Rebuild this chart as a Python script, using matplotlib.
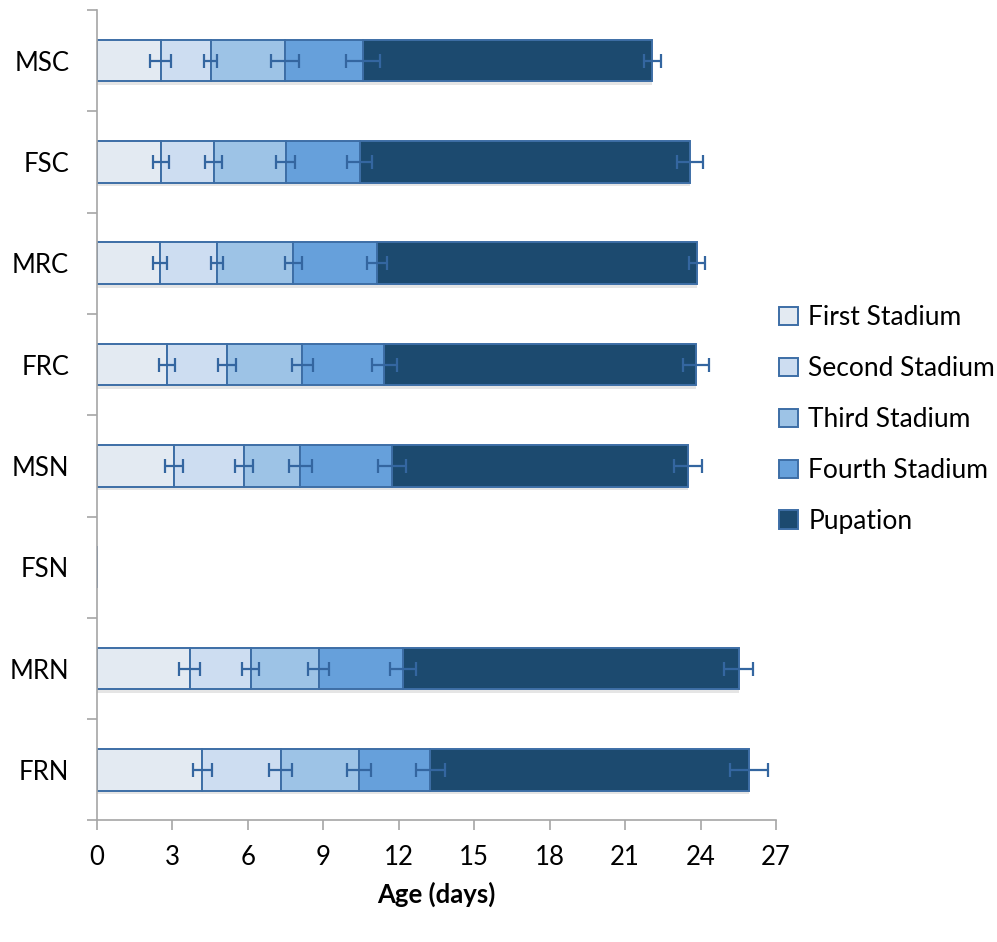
import numpy as np
import matplotlib
matplotlib.use("Agg")
import matplotlib.pyplot as plt
import matplotlib.patheffects as pe
from matplotlib.patches import Patch

plt.rcParams['font.family'] = ['Lato', 'DejaVu Sans']

# groups, top to bottom
groups = ["MSC", "FSC", "MRC", "FRC", "MSN", "FSN", "MRN", "FRN"]
stages = ["First Stadium", "Second Stadium", "Third Stadium", "Fourth Stadium", "Pupation"]

# mean duration of each stage (days); FSN has no data
first_st  = [2.53, 2.56, 2.50, 2.78, 3.07, np.nan, 3.68, 4.19]
second_st = [2.00, 2.08, 2.26, 2.39, 2.78, np.nan, 2.43, 3.12]
third_st  = [2.94, 2.86, 3.05, 3.00, 2.23, np.nan, 2.70, 3.12]
fourth_st = [3.11, 2.94, 3.33, 3.25, 3.64, np.nan, 3.35, 2.82]
pupation  = [11.51, 13.13, 12.73, 12.41, 11.79, np.nan, 13.36, 12.67]

# standard errors
first_se  = [0.42, 0.32, 0.27, 0.33, 0.35, np.nan, 0.41, 0.39]
second_se = [0.26, 0.34, 0.24, 0.35, 0.37, np.nan, 0.35, 0.46]
third_se  = [0.55, 0.38, 0.33, 0.41, 0.46, np.nan, 0.42, 0.47]
fourth_se = [0.69, 0.50, 0.41, 0.50, 0.55, np.nan, 0.51, 0.58]
pupa_se   = [0.34, 0.52, 0.32, 0.52, 0.56, np.nan, 0.58, 0.75]

durations = np.array([first_st, second_st, third_st, fourth_st, pupation])
errors = np.array([first_se, second_se, third_se, fourth_se, pupa_se])

colors = ["#e3eaf2", "#cdddf1", "#9dc3e6", "#66a0db", "#1c4a6f"]
edge = "#3d6ea6"
err_col = "#3466a0"

fig = plt.figure(figsize=(9.97, 9.42), dpi=100)
ax = fig.add_axes([0.0973, 0.1290, 0.6810, 0.8604])

y = np.arange(len(groups))
left = np.zeros(len(groups))
shadow = [pe.SimplePatchShadow(offset=(0, -2.5), shadow_rgbFace="#999999", alpha=0.25), pe.Normal()]
for i, stage in enumerate(stages):
    w = np.nan_to_num(durations[i])
    ax.barh(y, w, left=left, height=0.41, color=colors[i], edgecolor=edge,
            linewidth=1.4, label=stage, path_effects=shadow, zorder=2)
    left = left + w

# error bars sit at the end of each stage
cum = np.nancumsum(durations, axis=0)
for i in range(len(stages)):
    ok = ~np.isnan(durations[i])
    ax.errorbar(cum[i][ok], y[ok], xerr=errors[i][ok], fmt="none", ecolor=err_col,
                elinewidth=1.6, capsize=5, capthick=1.6, zorder=3)

ax.set_ylim(len(groups) - 0.5, -0.5)
ax.set_xlim(0, 27)
ax.set_xticks(np.arange(0, 28, 3))
ax.set_yticks(np.arange(-0.5, len(groups), 1))
ax.set_yticklabels([])
ax.set_yticks(y, minor=True)
ax.set_yticklabels(groups, minor=True)

ax.tick_params(axis="y", which="major", length=7, color="#a6a6a6", width=1.2)
ax.tick_params(axis="y", which="minor", length=0, pad=20, labelsize=18.5)
ax.tick_params(axis="x", length=7, color="#a6a6a6", width=1.2, pad=11, labelsize=18.5)

for s in ["top", "right"]:
    ax.spines[s].set_visible(False)
for s in ["left", "bottom"]:
    ax.spines[s].set_color("#a6a6a6")
    ax.spines[s].set_linewidth(1.2)

ax.set_xlabel("Age (days)", fontsize=18.5, fontweight="bold", labelpad=8)

handles = [Patch(facecolor=c, edgecolor=edge, linewidth=1.4) for c in colors]
fig.legend(handles, stages, loc="upper left", bbox_to_anchor=(0.771, 0.687),
           frameon=False, fontsize=19, handlelength=0.7, handleheight=0.7,
           handletextpad=0.4, labelspacing=0.98, borderaxespad=0)

fig.savefig("out.png", dpi=100)
